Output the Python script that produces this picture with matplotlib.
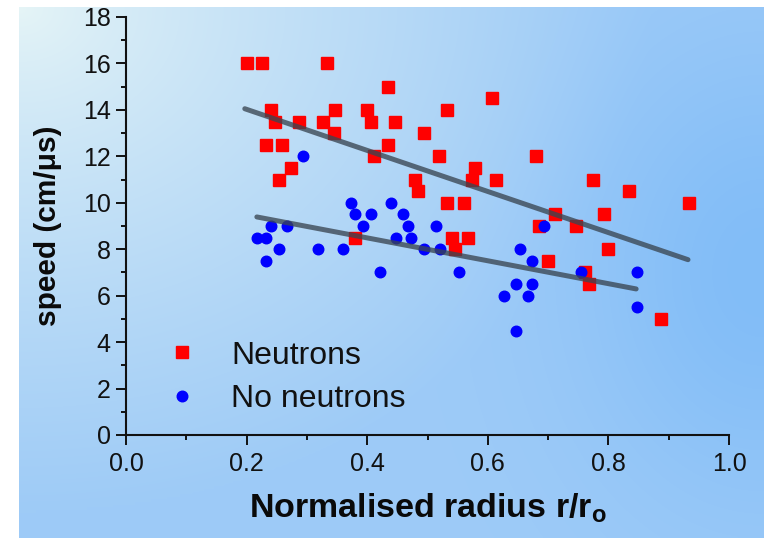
import numpy as np
import matplotlib
matplotlib.use("Agg")
import matplotlib.pyplot as plt
from matplotlib.colors import to_rgb

plt.rcParams['font.family'] = ['Liberation Sans', 'DejaVu Sans']

# ---- data ----
neutrons_x = [0.200, 0.226, 0.333, 0.241, 0.247, 0.233, 0.259, 0.253, 0.273, 0.287,
              0.327, 0.346, 0.345, 0.400, 0.407, 0.412, 0.434, 0.434, 0.446, 0.479,
              0.485, 0.494, 0.519, 0.532, 0.532, 0.540, 0.546, 0.561, 0.567, 0.573,
              0.579, 0.607, 0.613, 0.680, 0.685, 0.700, 0.712, 0.747, 0.761, 0.767,
              0.775, 0.793, 0.800, 0.834, 0.887, 0.933, 0.380]
neutrons_y = [16, 16, 16, 14, 13.5, 12.5, 12.5, 11, 11.5, 13.5,
              13.5, 14, 13, 14, 13.5, 12, 15, 12.5, 13.5, 11,
              10.5, 13, 12, 14, 10, 8.5, 8, 10, 8.5, 11,
              11.5, 14.5, 11, 12, 9, 7.5, 9.5, 9, 7, 6.5,
              11, 9.5, 8, 10.5, 5, 10, 8.5]

noneut_x = [0.293, 0.218, 0.233, 0.240, 0.233, 0.253, 0.267, 0.319, 0.360, 0.373,
            0.380, 0.393, 0.407, 0.421, 0.439, 0.447, 0.460, 0.467, 0.473, 0.494,
            0.514, 0.520, 0.553, 0.627, 0.647, 0.647, 0.653, 0.667, 0.673, 0.673,
            0.694, 0.754, 0.847, 0.847]
noneut_y = [12, 8.5, 8.5, 9, 7.5, 8, 9, 8, 8, 10,
            9.5, 9, 9.5, 7, 10, 8.5, 9.5, 9, 8.5, 8,
            9, 8, 7, 6, 6.5, 4.5, 8, 6, 7.5, 6.5,
            9, 7, 7, 5.5]

fit_neut_x = [0.197, 0.932]
fit_neut_y = [14.05, 7.55]
fit_non_x = [0.217, 0.846]
fit_non_y = [9.39, 6.29]

labels = ["Neutrons", "No neutrons"]
x_ticks = [0.0, 0.2, 0.4, 0.6, 0.8, 1.0]
y_ticks = [0, 2, 4, 6, 8, 10, 12, 14, 16, 18]

W, H = 764, 538
fig = plt.figure(figsize=(W / 100, H / 100), dpi=100)
fig.patch.set_facecolor('white')

# ---- background gradient ----
bg = fig.add_axes([19 / W, 0, 1 - 19 / W, 1 - 7 / H], zorder=-10)
bg.axis('off')
ny, nx = 200, 280
u = np.linspace(0, 1, nx)[None, :]
v = np.linspace(0, 1, ny)[:, None]
t = np.clip(np.sqrt((u / 0.85) ** 2 + (v / 0.95) ** 2), 0, 1) ** 0.8
light = np.array(to_rgb('#e6f5f6'))
blue = np.array(to_rgb('#9ecbf7'))
deep = np.array(to_rgb('#82bdf8'))
img = light[None, None, :] * (1 - t[..., None]) + blue[None, None, :] * t[..., None]
r = np.exp(-(((u - 1.0) / 0.25) ** 2 + ((v - 0.5) / 0.45) ** 2))
img = img * (1 - r[..., None]) + deep[None, None, :] * r[..., None]
bg.imshow(img, aspect='auto', extent=[0, 1, 0, 1], interpolation='bilinear')
bg.set_xlim(0, 1); bg.set_ylim(0, 1)

# ---- main axes ----
ax = fig.add_axes([126 / W, (H - 435) / H, 603 / W, 418 / H])
ax.set_facecolor('none')

ax.plot(neutrons_x, neutrons_y, ls='none', marker='s', ms=8, color='#ff0000',
        mec='#ff0000', label=labels[0], zorder=3)
ax.plot(noneut_x, noneut_y, ls='none', marker='o', ms=7.6, color='#0000ff',
        mec='#0000ff', label=labels[1], zorder=3)

line_col = '#3a4652'
ax.plot(fit_neut_x, fit_neut_y, color=line_col, lw=3.6, alpha=0.78,
        solid_capstyle='round', zorder=4)
ax.plot(fit_non_x, fit_non_y, color=line_col, lw=3.6, alpha=0.78,
        solid_capstyle='round', zorder=4)

ax.set_xlim(0, 1.0)
ax.set_ylim(0, 18)
ax.set_xticks(x_ticks)
ax.set_xticklabels([f"{v:.1f}" for v in x_ticks])
ax.set_yticks(y_ticks)
ax.set_yticklabels([str(v) for v in y_ticks])
ax.set_xticks(np.arange(0.1, 1.0, 0.2), minor=True)
ax.set_yticks(np.arange(1, 18, 2), minor=True)

for s in ['top', 'right']:
    ax.spines[s].set_visible(False)
for s in ['left', 'bottom']:
    ax.spines[s].set_linewidth(1.5)
    ax.spines[s].set_color('#111111')

ax.tick_params(which='major', direction='out', length=7, width=1.4,
               labelsize=18, colors='#111111', pad=4)
ax.tick_params(which='minor', direction='out', length=3.5, width=1.4,
               colors='#111111')
ax.tick_params(axis='x', which='major', pad=5)

ax.set_xlabel(r"Normalised radius r/r$_\mathregular{o}$", fontsize=24.5,
              fontweight='bold', labelpad=11, color='#0a0a0a')
ax.set_ylabel("speed (cm/\u03bcs)", fontsize=21.5, fontweight='bold',
              labelpad=15, color='#0a0a0a')

leg = ax.legend(loc='upper left', bbox_to_anchor=(0.066, 0.226), frameon=False,
                fontsize=23, handlelength=1.0, handletextpad=1.05,
                labelspacing=0.42, borderpad=0, borderaxespad=0, numpoints=1)
for txt in leg.get_texts():
    txt.set_color('#111111')

fig.savefig('out.png', dpi=100)
